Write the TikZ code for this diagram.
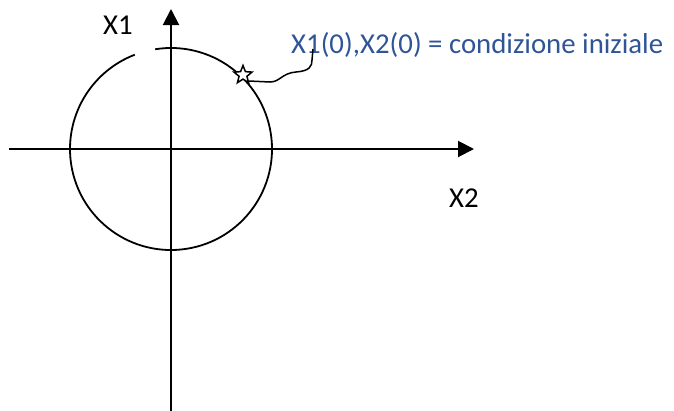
\documentclass[tikz,border=0pt]{standalone}
\usepackage{fontspec}
\setmainfont{Carlito}
\usetikzlibrary{arrows.meta,shapes.geometric,calc}
\definecolor{wordblue}{RGB}{47,85,151}

\begin{document}
\begin{tikzpicture}[
  x=1pt, y=-1pt,
  every node/.style={font=\fontsize{28.8}{34}\selectfont, inner sep=0pt},
  axis/.style={line width=2pt, -{Triangle[length=16pt,width=16pt]}},
  orbit/.style={line width=1.8pt},
  mark star/.style={star, star points=5, star point ratio=2.3, draw, fill=white,
                    line width=1.5pt, minimum size=19pt, inner sep=0pt},
  callout/.style={line width=1.5pt}
]
\useasboundingbox (0,0) rectangle (674,410);

% axes and the trajectory
\coordinate (O) at (171,149);
\coordinate (xleft) at (9,149);
\coordinate (xright) at (474,149);
\coordinate (ybot) at (171,412);
\coordinate (ytop) at (171,9);
\draw[axis] (xleft) -- (xright);
\draw[axis] (ybot) -- (ytop);
\draw[orbit] ($(O)+(99:101pt)$) arc[start angle=99, end angle=-249, radius=101pt];

\node[anchor=base west] (lx1) at (103,34) {X1};
\node[anchor=base west] (lx2) at (449,207) {X2};

% initial condition and its note
\node[mark star] (x0) at (243,75) {};
\node[anchor=base west, text=wordblue] (cond) at (291,53) {X1(0),X2(0) = condizione iniziale};
\coordinate (hook) at (313,49);
\draw[callout] (x0.center) ++(6,6) -- (270,82)
  .. controls (280,82) and (282,73) .. (296,72)
  .. controls (310,71) and (312,66) .. (312,60) -- (hook);

\end{tikzpicture}
\end{document}
